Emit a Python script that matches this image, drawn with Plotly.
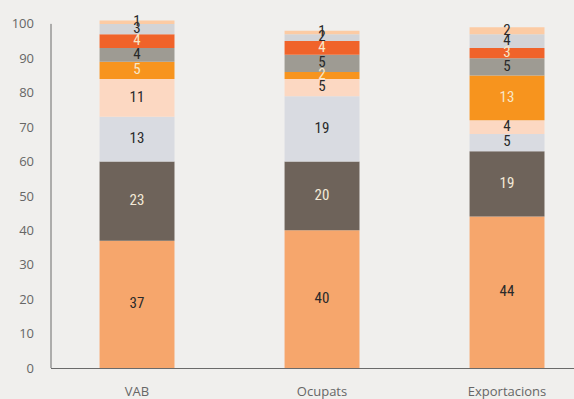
import plotly.graph_objects as go
import numpy as np

categories = ["VAB", "Ocupats", "Exportacions"]

# Stacked shares (%) per segment, bottom to top
seg1 = [37, 40, 44]
seg2 = [23, 20, 19]
seg3 = [13, 19, 5]
seg4 = [11, 5, 4]
seg5 = [5, 2, 13]
seg6 = [4, 5, 5]
seg7 = [4, 4, 3]
seg8 = [3, 2, 4]
seg9 = [1, 1, 2]

series = [seg1, seg2, seg3, seg4, seg5, seg6, seg7, seg8, seg9]
colors = ["#F6A66C", "#6E635A", "#D9DBE1", "#FCD8C2", "#F7941E",
          "#9E9B93", "#F0632A", "#D3D4D7", "#FCCBA4"]
label_colors = ["#2a2a2a", "#F3EAD8", "#2a2a2a", "#2a2a2a", "#F8E7C8",
                "#2a2a2a", "#F8E7C8", "#2a2a2a", "#2a2a2a"]

y_ticks = list(range(0, 101, 10))

fig = go.Figure()
xpos = np.arange(len(categories))
base = np.zeros(len(categories))
for vals, col in zip(series, colors):
    fig.add_trace(go.Bar(x=xpos, y=vals, base=base.copy(), marker_color=col,
                         marker_line_width=0, width=0.405, hoverinfo="skip"))
    base += np.array(vals)

# Value labels centred on each segment
base = np.zeros(len(categories))
for vals, lc in zip(series, label_colors):
    mids = base + np.array(vals) / 2
    fig.add_trace(go.Scatter(x=xpos, y=mids, mode="text",
                             text=[str(v) for v in vals],
                             textfont=dict(family="Liberation Sans Narrow, Roboto Condensed, sans-serif",
                                           size=15, color=lc),
                             cliponaxis=False, hoverinfo="skip"))
    base += np.array(vals)

# Vertical axis line from 0 to 100 only
fig.add_shape(type="line", xref="paper", yref="y", x0=0, x1=0, y0=0, y1=100,
              line=dict(color="#6a6a6a", width=1))

fig.update_layout(
    width=574, height=399, barmode="overlay", showlegend=False,
    paper_bgcolor="#F0EFED", plot_bgcolor="#F0EFED",
    margin=dict(l=51, r=0, t=17, b=31),
    font=dict(family="Open Sans, sans-serif", size=13, color="#666666"),
)
fig.update_xaxes(range=[-0.465, 2.362], tickvals=list(xpos), ticktext=categories,
                 showgrid=False, zeroline=False, showline=True, linecolor="#6a6a6a",
                 linewidth=1, ticks="", ticklabelstandoff=11)
fig.update_yaxes(range=[0, 102], tickvals=y_ticks, showgrid=False, zeroline=False,
                 showline=False, ticks="", ticklabelstandoff=16)

fig.write_html("out.html")
